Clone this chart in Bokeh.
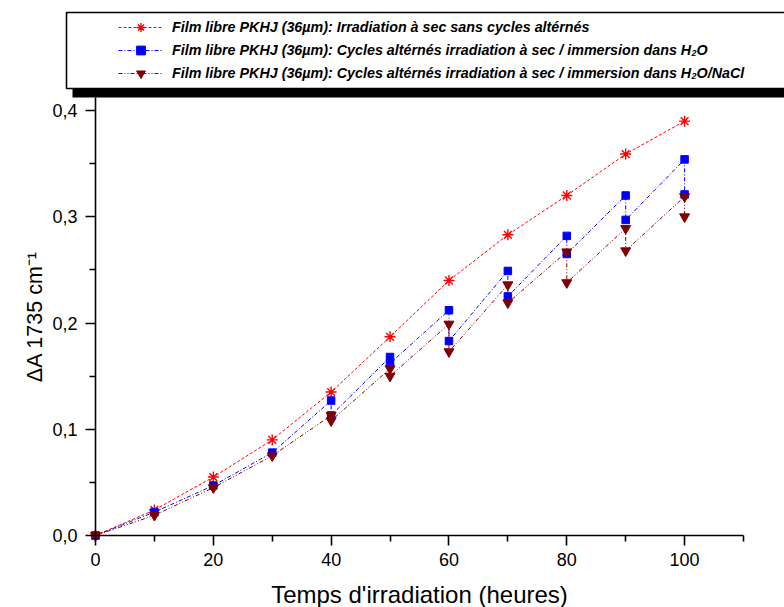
from bokeh.plotting import figure
from bokeh.models import (Range1d, FixedTicker, CustomJSTickFormatter, Legend, LegendItem,
                          BoxAnnotation, Node, LinearAxis)
from bokeh.embed import file_html
from bokeh.resources import INLINE

# ---- data ----
hours_dry = [0, 10, 20, 30, 40, 50, 60, 70, 80, 90, 100]
dA_dry = [0.0, 0.024, 0.055, 0.090, 0.135, 0.187, 0.240, 0.283, 0.320, 0.359, 0.390]

hours_cyc = [0, 10, 20, 30, 40, 40, 50, 50, 60, 60, 70, 70, 80, 80, 90, 90, 100, 100]
dA_h2o = [0.0, 0.022, 0.047, 0.078, 0.127, 0.113, 0.168, 0.162, 0.212, 0.183,
          0.249, 0.225, 0.282, 0.265, 0.320, 0.297, 0.354, 0.321]
dA_nacl = [0.0, 0.019, 0.045, 0.075, 0.113, 0.108, 0.157, 0.150, 0.199, 0.173,
           0.236, 0.219, 0.267, 0.238, 0.289, 0.268, 0.319, 0.300]

x_major = [0, 20, 40, 60, 80, 100]
x_minor = [10, 30, 50, 70, 90, 110]
y_major = [0.0, 0.1, 0.2, 0.3, 0.4]
y_minor = [0.05, 0.15, 0.25, 0.35]

labels = [
    "Film libre PKHJ (36µm): Irradiation à sec sans cycles altérnés",
    "Film libre PKHJ (36µm): Cycles altérnés irradiation à sec / immersion dans H₂O",
    "Film libre PKHJ (36µm): Cycles altérnés irradiation à sec / immersion dans H₂O/NaCl",
]

RED = "#FF0000"
BLUE = "#0000FF"
BROWN = "#800000"
styles = [
    dict(color=RED, dash="3 2", marker="asterisk", size=11, lw=1.4),
    dict(color=BLUE, dash="4 2 1 2", marker="square", size=7.5, lw=1),
    dict(color=BROWN, dash="4 2 1 2 1 2", marker="inverted_triangle", size=10, lw=1),
]

# Layout: the frame fills the canvas; axes are pinned at x=0 / y=0 (fixed_location)
# so the legend box (left of the y axis, above the plot) can be drawn unclipped.
W, H = 784, 607
X0_PX, X110_PX = 95.0, 743.0        # pixel position of x=0 and x=110
Y0_PX, Y04_PX = 535.0, 110.0        # pixel position of y=0 and y=0.4
sx = (X110_PX - X0_PX) / 110.0
sy = (Y0_PX - Y04_PX) / 0.4
x_range = Range1d(-X0_PX / sx, 110.0 + (W - X110_PX) / sx)
y_range = Range1d(-(H - Y0_PX) / sy, Y0_PX / sy)
y_top = (Y0_PX - 97.0) / sy          # axis line runs up under the legend shadow

p = figure(width=W, height=H, x_range=x_range, y_range=y_range,
           output_backend="svg", toolbar_location=None,
           x_axis_location=None, y_axis_location=None, min_border=0)
p.grid.visible = False
p.outline_line_color = None

series = [(hours_dry, dA_dry), (hours_cyc, dA_h2o), (hours_cyc, dA_nacl)]
items = []
for (xs, ys), st, lab in zip(series, styles, labels):
    lr = p.line(xs, ys, line_color=st["color"], line_dash=st["dash"], line_width=1)
    if st["marker"] == "asterisk":
        sr = p.scatter(xs, ys, marker="asterisk", size=st["size"], line_color=st["color"],
                       line_width=st["lw"])
    else:
        sr = p.scatter(xs, ys, marker=st["marker"], size=st["size"], fill_color=st["color"],
                       line_color=st["color"])
    items.append(LegendItem(label=lab, renderers=[lr, sr]))

xaxis = LinearAxis(fixed_location=0, bounds=(0, 110),
                   ticker=FixedTicker(ticks=x_major, minor_ticks=x_minor),
                   axis_label="Temps d'irradiation (heures)")
yaxis = LinearAxis(fixed_location=0, bounds=(0, y_top),
                   ticker=FixedTicker(ticks=y_major, minor_ticks=y_minor),
                   formatter=CustomJSTickFormatter(code="return tick.toFixed(1).replace('.', ',');"),
                   axis_label="ΔA 1735 cm⁻¹")
for ax in (xaxis, yaxis):
    ax.axis_line_width = 1.6
    ax.axis_line_color = "black"
    ax.major_tick_line_width = 1.6
    ax.minor_tick_line_width = 1.6
    ax.major_tick_out = 10
    ax.major_tick_in = 0
    ax.minor_tick_out = 6
    ax.minor_tick_in = 0
    ax.major_label_text_font = "Liberation Sans"
    ax.major_label_text_font_size = "18px"
    ax.major_label_text_color = "black"
    ax.axis_label_text_font = "Liberation Sans"
    ax.axis_label_text_font_style = "normal"
    ax.axis_label_text_color = "black"
xaxis.major_label_standoff = 7
xaxis.axis_label_text_font_size = "24px"
xaxis.axis_label_standoff = 12
yaxis.major_label_standoff = 8
yaxis.axis_label_text_font_size = "21.5px"
yaxis.axis_label_standoff = 2
p.add_layout(xaxis, "below")
p.add_layout(yaxis, "left")

# legend frame with drop shadow
shadow = BoxAnnotation(left=Node(target="canvas", symbol="left", offset=72),
                       right=Node(target="canvas", symbol="right", offset=10),
                       top=Node(target="canvas", symbol="top", offset=88),
                       bottom=Node(target="canvas", symbol="top", offset=97),
                       fill_color="black", fill_alpha=1.0, line_color=None)
box = BoxAnnotation(left=Node(target="canvas", symbol="left", offset=66),
                    right=Node(target="canvas", symbol="right", offset=10),
                    top=Node(target="canvas", symbol="top", offset=12),
                    bottom=Node(target="canvas", symbol="top", offset=88),
                    fill_color="white", fill_alpha=1.0,
                    line_color="black", line_alpha=1.0, line_width=1.6)
p.add_layout(shadow)
p.add_layout(box)

legend = Legend(items=items, location=(118, H - 84), padding=0, spacing=1, margin=0,
                glyph_width=45, glyph_height=22, label_height=22, label_standoff=9,
                label_text_font="Liberation Sans", label_text_font_style="bold italic",
                label_text_font_size="14.3px", label_text_color="black",
                border_line_color=None, background_fill_alpha=0)
p.add_layout(legend, "center")

open("out.html", "w").write(file_html(p, INLINE))
